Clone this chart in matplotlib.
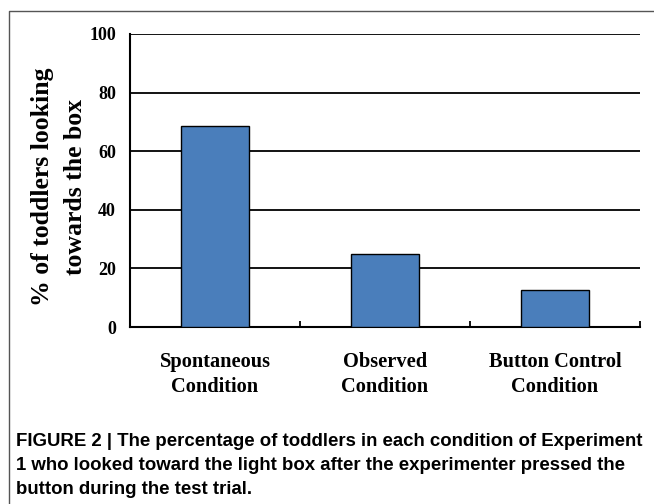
import matplotlib as mpl
mpl.use('Agg')
import matplotlib.pyplot as plt
from matplotlib.lines import Line2D

conditions = ['Spontaneous\nCondition', 'Observed\nCondition', 'Button Control\nCondition']
percent_looking = [68.75, 25.0, 12.5]
y_ticks = [0, 20, 40, 60, 80, 100]
y_label = '% of toddlers looking\ntowards the box'
caption = ('FIGURE 2 | The percentage of toddlers in each condition of Experiment\n'
           '1 who looked toward the light box after the experimenter pressed the\n'
           'button during the test trial.')

serif = ['Liberation Serif', 'DejaVu Serif']
W, H = 654, 504

fig = plt.figure(figsize=(W / 100, H / 100), dpi=100)
ax = fig.add_axes([130 / W, 1 - 327 / H, 510 / W, 293 / H])

x = range(len(conditions))
ax.bar(x, percent_looking, width=0.4, color='#4a7ebb', edgecolor='black',
       linewidth=1.0, zorder=3)

ax.set_xlim(-0.5, len(conditions) - 0.5)
ax.set_ylim(0, 100)
ax.set_yticks(y_ticks)
ax.yaxis.grid(True, color='black', linewidth=1.3)
ax.set_axisbelow(True)

ax.set_xticks(list(x))
ax.set_xticklabels(conditions, family=serif, fontweight='bold', fontsize=14.7,
                   linespacing=1.3)
ax.set_xticks([0.5, 1.5, 2.5], minor=True)
ax.tick_params(axis='x', which='major', length=0, pad=18)
ax.tick_params(axis='x', which='minor', direction='in', length=4, width=1.3)
ax.tick_params(axis='y', length=0, pad=10)
for lab in ax.get_yticklabels():
    lab.set_family(serif)
    lab.set_fontweight('bold')
    lab.set_fontsize(13)

ax.set_ylabel(y_label, family=serif, fontweight='bold', fontsize=18.5,
              linespacing=1.55)
ax.yaxis.set_label_coords(-0.084, 0.478)

for side in ['top', 'right']:
    ax.spines[side].set_visible(False)
for side in ['left', 'bottom']:
    ax.spines[side].set_linewidth(1.5)
    ax.spines[side].set_color('black')

# outer frame (top and left edges)
fig.add_artist(Line2D([9 / W, 9 / W, 1], [0, 1 - 11 / H, 1 - 11 / H],
                      transform=fig.transFigure, color='#555555', linewidth=1.0))

fig.text(16 / W, 1 - 433 / H, caption, ha='left', va='top',
         family=['Liberation Sans', 'DejaVu Sans'],
         fontweight='bold', fontsize=13.4, linespacing=1.55)

fig.savefig('out.png', dpi=100)
